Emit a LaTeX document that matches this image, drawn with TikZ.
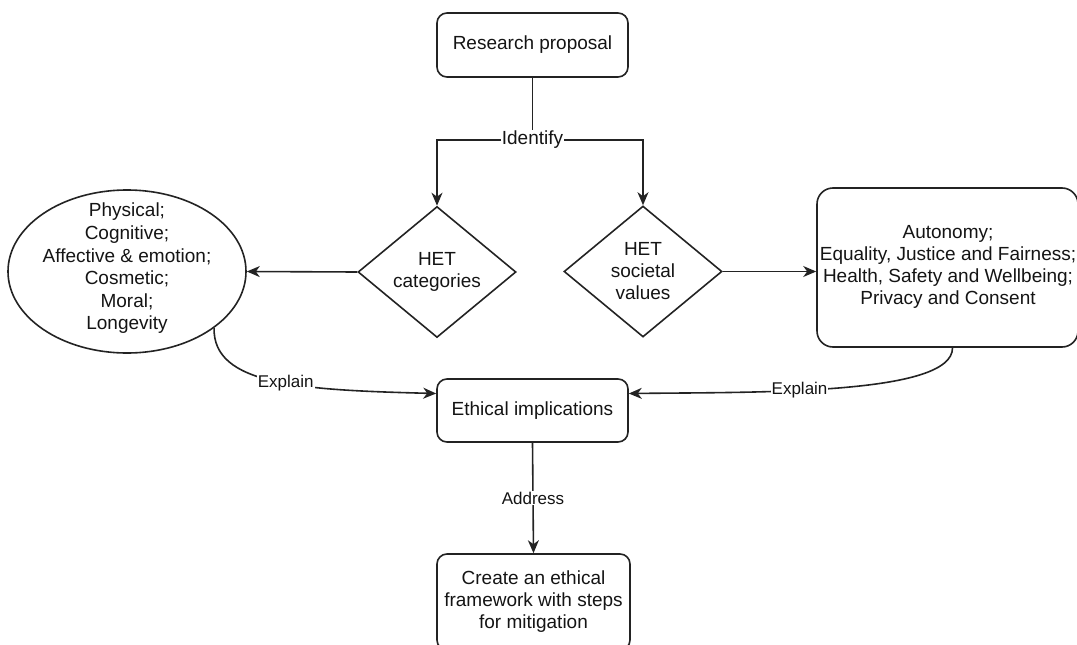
\documentclass[tikz,border=0pt]{standalone}
\usepackage{fontspec}
\setmainfont{Liberation Sans}
\usetikzlibrary{arrows.meta,shapes.geometric,calc}
\definecolor{ln}{RGB}{35,35,35}
\definecolor{tx}{RGB}{20,20,20}
\tikzset{
 box/.style={draw=ln, line width=1.6pt, rounded corners=10pt, inner sep=0pt},
 shp/.style={draw=ln, line width=1.6pt, inner sep=0pt},
 txt/.style={font=\fontsize{19}{22}\selectfont, text=tx, align=center, inner sep=0pt},
 lbl/.style={font=\fontsize{17}{20}\selectfont, text=tx, fill=white, inner sep=1pt},
 conn/.style={draw=ln, line width=1.6pt},
 arr/.style={conn, -{Stealth[length=13pt,width=11pt,inset=4pt]}},
}
\begin{document}
\begin{tikzpicture}[x=1pt,y=-1pt]
\useasboundingbox (0,0) rectangle (1077,645);
\clip (0,0) rectangle (1077,645);
% nodes
\node[box, minimum width=191pt, minimum height=64pt] (rp) at (532.5,45) {};
\node[txt] (rpt) at (rp) {Research proposal};

\node[shp, diamond, minimum width=158pt, minimum height=131pt] (hc) at (437,272) {};
\node[txt] (hct) at (hc) {HET\\categories};

\node[shp, diamond, minimum width=158pt, minimum height=131pt] (hs) at (643,271.5) {};
\node[txt] (hst) at (hs) {HET\\societal\\values};

\node[shp, ellipse, minimum width=238pt, minimum height=163pt] (ell) at (127,271.5) {};
\node[txt, font=\fontsize{19}{22.6}\selectfont] (ellt) at (127,268.5) {Physical;\\Cognitive;\\Affective \& emotion;\\Cosmetic;\\Moral;\\Longevity};

\node[box, rounded corners=16pt, minimum width=261pt, minimum height=159pt] (vb) at (947.5,267.5) {};
\node[txt] (vbt) at (948,267) {Autonomy;\\Equality, Justice and Fairness;\\Health, Safety and Wellbeing;\\Privacy and Consent};

\node[box, minimum width=191pt, minimum height=63pt] (eth) at (532.5,410.5) {};
\node[txt] (etht) at (eth) {Ethical implications};

\node[box, minimum width=193pt, minimum height=96pt] (fb) at (533.5,602) {};
\node[txt] (fbt) at (533.5,601.5) {Create an ethical\\framework with steps\\for mitigation};

% connectors
\coordinate (split) at (532.5,140);
\draw[conn] (rp.south) -- (split);
\draw[arr] (split) -| (hc.north);
\draw[arr] (split) -| (hs.north);
\node[lbl, font=\fontsize{19}{22}\selectfont] (idl) at (split) {Identify};

\draw[arr] (hc.west) -- (ell.east);
\draw[arr] (hs.east) -- (hs.east -| vb.west);

\draw[arr] (ell.-33.5) .. controls (213,385) and (300,390) .. (eth.170)
  node[lbl, pos=0.55] (ex1) {Explain};
\draw[arr] ($(vb.south)+(5,0)$) .. controls (953,395) and (760,392) .. (eth.10)
  node[lbl, pos=0.6] (ex2) {Explain};

\draw[arr] (eth.south) -- (fb.north) node[lbl, midway] (adl) {Address};
\end{tikzpicture}
\end{document}
